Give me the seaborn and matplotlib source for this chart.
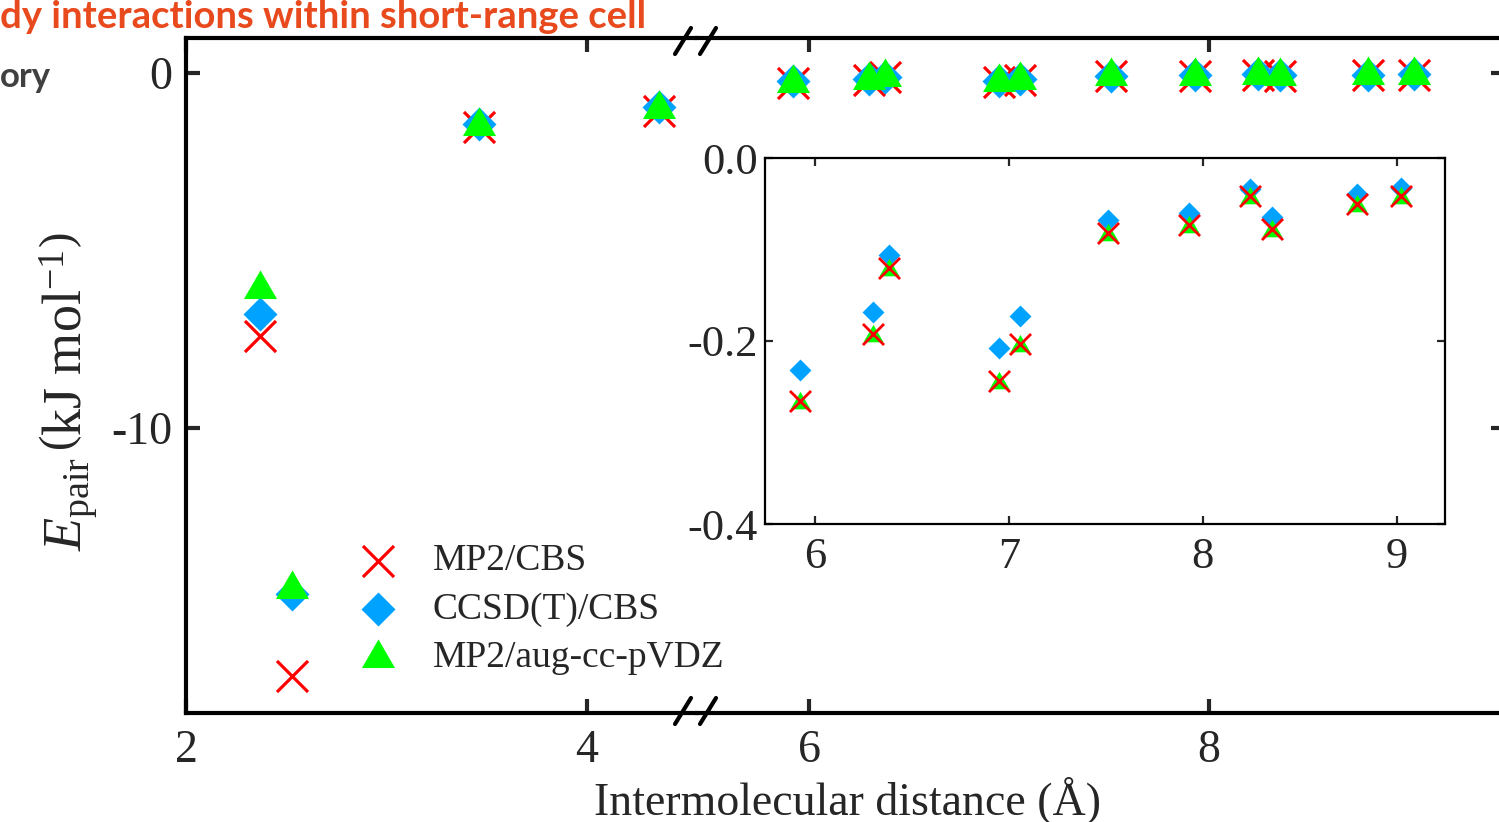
import matplotlib
matplotlib.use("Agg")
import matplotlib.pyplot as plt
from matplotlib.path import Path
from matplotlib.lines import Line2D
import pandas as pd
import seaborn as sns

# intermolecular distance (Angstrom) and pair energies (kJ/mol)
dist = [2.37, 2.53, 3.46, 4.36, 5.92, 6.30, 6.38, 6.95, 7.055, 7.51, 7.93, 8.245, 8.356, 8.795, 9.025]
mp2_cbs = [-7.42, -17.00, -1.51, -1.06, -0.266, -0.192, -0.120, -0.244, -0.203,
           -0.082, -0.073, -0.042, -0.078, -0.050, -0.042]
ccsd_t_cbs = [-6.79, -14.68, -1.42, -0.95, -0.232, -0.168, -0.106, -0.208, -0.173,
              -0.068, -0.060, -0.034, -0.065, -0.039, -0.033]
mp2_avdz = [-6.08, -14.53, -1.48, -1.01, -0.268, -0.194, -0.122, -0.246, -0.205,
            -0.084, -0.075, -0.044, -0.080, -0.052, -0.044]

methods = ["MP2/CBS", "CCSD(T)/CBS", "MP2/aug-cc-pVDZ"]
colors = {"MP2/CBS": "#FF0000", "CCSD(T)/CBS": "#00A2FF", "MP2/aug-cc-pVDZ": "#00FF00"}

xticks_left = [2, 4]
xticks_right = [6, 8]
yticks_main = [0, -10]
inset_xticks = [6, 7, 8, 9]
inset_yticks = [0.0, -0.2, -0.4]

df = pd.DataFrame({"dist": dist, "MP2/CBS": mp2_cbs,
                   "CCSD(T)/CBS": ccsd_t_cbs, "MP2/aug-cc-pVDZ": mp2_avdz})

SERIF = ["Liberation Serif", "DejaVu Serif"]
sns.set_style("ticks")
plt.rcParams["font.family"] = SERIF
plt.rcParams["mathtext.fontset"] = "custom"
plt.rcParams["mathtext.rm"] = "Liberation Serif"
plt.rcParams["mathtext.it"] = "Liberation Serif:italic"
plt.rcParams["axes.unicode_minus"] = False

W, H = 1499, 822
fig = plt.figure(figsize=(W / 100, H / 100), dpi=100)


def box(x0, y0, x1, y1):
    # pixel box -> figure fraction
    return [x0 / W, 1 - y1 / H, (x1 - x0) / W, (y1 - y0) / H]


ax_l = fig.add_axes(box(186, 38, 697, 713))
ax_r = fig.add_axes(box(697, 38, 1505, 713))
ax_in = fig.add_axes(box(765, 158, 1445, 524))

# triangle centred on its centroid (like Origin does)
tri = Path([(0, 1), (-0.866, -0.5), (0.866, -0.5), (0, 1)], closed=True)

main_style = {
    "MP2/CBS": dict(marker="x", s=500, linewidth=2.3),
    "CCSD(T)/CBS": dict(marker="D", s=300, linewidth=0),
    "MP2/aug-cc-pVDZ": dict(marker=tri, s=756, linewidth=0),
}
inset_style = {
    "MP2/CBS": dict(marker="x", s=230, linewidth=2.0),
    "CCSD(T)/CBS": dict(marker="D", s=125, linewidth=0),
    "MP2/aug-cc-pVDZ": dict(marker=tri, s=280, linewidth=0),
}

for ax in (ax_l, ax_r):
    for m in methods:
        sns.scatterplot(data=df, x="dist", y=m, ax=ax, color=colors[m],
                        label=m, legend=False, **main_style[m])

for m in ["CCSD(T)/CBS", "MP2/aug-cc-pVDZ", "MP2/CBS"]:
    sns.scatterplot(data=df, x="dist", y=m, ax=ax_in, color=colors[m],
                    legend=False, **inset_style[m])

# main broken axis
for ax in (ax_l, ax_r):
    ax.set_ylim(-18.03, 0.99)
    ax.set_yticks(yticks_main)
    ax.set_xlabel("")
    ax.set_ylabel("")
    for sp in ax.spines.values():
        sp.set_linewidth(3)
        sp.set_color("black")

ax_l.set_xlim(2, 4.549)
ax_r.set_xlim(5.44, 9.48)
ax_l.set_xticks(xticks_left)
ax_r.set_xticks(xticks_right)
ax_l.set_xticklabels([str(v) for v in xticks_left])
ax_r.set_xticklabels([str(v) for v in xticks_right])
ax_l.set_yticklabels([str(v) for v in yticks_main])
ax_l.spines["right"].set_visible(False)
ax_r.spines["left"].set_visible(False)

ax_l.tick_params(axis="both", direction="in", length=10, width=3, labelsize=33,
                 top=True, right=False)
ax_l.tick_params(axis="x", pad=12)
ax_l.tick_params(axis="y", pad=10)
ax_r.tick_params(axis="both", direction="in", length=10, width=3, labelsize=33,
                 top=True, right=True, left=False, labelleft=False, pad=12)

# break marks
for yc in (41, 711):
    for xc in (683, 708):
        fig.add_artist(Line2D([(xc - 8) / W, (xc + 8) / W],
                              [1 - (yc + 13) / H, 1 - (yc - 13) / H],
                              color="black", lw=3, transform=fig.transFigure))

# inset
ax_in.set_xlim(5.74, 9.25)
ax_in.set_ylim(-0.4, 0.0)
ax_in.set_xticks(inset_xticks)
ax_in.set_yticks(inset_yticks)
ax_in.set_xticklabels([str(v) for v in inset_xticks])
ax_in.set_yticklabels([f"{v:.1f}" for v in inset_yticks])
ax_in.set_xlabel("")
ax_in.set_ylabel("")
for sp in ax_in.spines.values():
    sp.set_linewidth(1.6)
    sp.set_color("black")
ax_in.tick_params(axis="both", direction="in", length=6, width=1.6, labelsize=32,
                  top=True, right=True)
ax_in.tick_params(axis="x", pad=9)
ax_in.tick_params(axis="y", pad=5)

for ax in (ax_l, ax_r, ax_in):
    for lab in ax.get_xticklabels() + ax.get_yticklabels():
        lab.set_fontfamily(SERIF)

# legend
handles, labels = ax_l.get_legend_handles_labels()
fig.legend(handles[:3], labels[:3], loc="upper left",
           bbox_to_anchor=(350 / W, 1 - 544 / H), bbox_transform=fig.transFigure,
           frameon=False, fontsize=27, handlelength=1.5, handletextpad=0.7,
           labelspacing=0.37, borderpad=0, borderaxespad=0)

fig.text(848 / W, 1 - 800 / H, "Intermolecular distance (Å)", ha="center", va="center",
         fontsize=33)
fig.text(68 / W, 1 - 392 / H, r"$E_{\mathrm{pair}}\,\left(\mathrm{kJ\ mol}^{-1}\right)$",
         rotation=90, ha="center", va="center", fontsize=39)

# slide text that sits above the chart
fig.text(0.0, 1 - 28 / H, "dy interactions within short-range cell", ha="left",
         va="baseline", fontsize=27.5, fontweight="bold", color="#E8491D",
         family=["Lato", "DejaVu Sans"])
fig.text(0.0, 1 - 87 / H, "ory", ha="left", va="baseline", fontsize=25,
         fontweight="bold", color="#404040", family=["Lato", "DejaVu Sans"])

fig.savefig("out.png", dpi=100)
